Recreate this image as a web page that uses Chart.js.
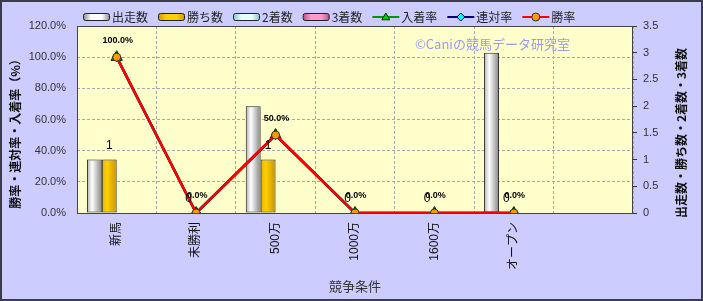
<!DOCTYPE html>
<html>
<head>
<meta charset="utf-8">
<script src="https://cdn.jsdelivr.net/npm/chart.js@4"></script>
<style>
  body { margin: 0; background: #ccccff; }
  canvas { display: block; }
</style>
</head>
<body>
<canvas id="grafico" width="703" height="301"></canvas>
<script>
// dati
let categorie = ['新馬', '未勝利', '500万', '1000万', '1600万', 'オープン', ''];
let serieBarre = ['出走数', '勝ち数', '2着数', '3着数'];
let serieLinee = ['入着率', '連対率', '勝率'];
let corse = [1, 0, 2, 0, 0, 3, null];
let vittorie = [1, 0, 1, 0, 0, 0, null];
let secondi = [0, 0, 0, 0, 0, 0, null];
let terzi = [0, 0, 0, 0, 0, 0, null];
let tassoPiazzati = [100, 0, 50, 0, 0, 0, null];
let tassoPrimiDue = [100, 0, 50, 0, 0, 0, null];
let tassoVittorie = [100, 0, 50, 0, 0, 0, null];
let maxSinistra = 120, passoSinistra = 20;
let maxDestra = 3.5, passoDestra = 0.5;

const FONT = '"Liberation Sans", "Noto Sans CJK JP", sans-serif';
const FONT_JP = '"Noto Sans CJK JP", "Liberation Sans", sans-serif';
const PCT_CAT = 0.75;

let coloriBarre = [
  ['#b0b0b0', '#ffffff', '#848484'],
  ['#e8b000', '#ffd000', '#c89200'],
  ['#99dddd', '#e6ffff', '#80c0c0'],
  ['#cc6699', '#ff99cc', '#b0507f']
];

function sfumatura(k) {
  return function (c) {
    let col = coloriBarre[k];
    let x = c.chart.scales.x;
    if (!x || c.type !== 'data') return col[1];
    let catW = x.width / categorie.length;
    let gruppo = catW * PCT_CAT;
    let barW = gruppo / serieBarre.length;
    let sx = x.getPixelForValue(c.dataIndex) - gruppo / 2 + k * barW;
    if (!isFinite(sx) || !isFinite(barW) || barW <= 0) return col[1];
    let g = c.chart.ctx.createLinearGradient(sx, 0, sx + barW, 0);
    g.addColorStop(0, col[0]);
    g.addColorStop(0.35, col[1]);
    g.addColorStop(1, col[2]);
    return g;
  };
}

function barra(k, valori) {
  return {
    type: 'bar',
    label: serieBarre[k],
    data: valori,
    yAxisID: 'y1',
    backgroundColor: sfumatura(k),
    borderColor: '#222',
    borderWidth: 1,
    borderSkipped: false,
    categoryPercentage: PCT_CAT,
    barPercentage: 1,
    order: 10
  };
}

let dati = {
  labels: categorie,
  datasets: [
    barra(0, corse),
    barra(1, vittorie),
    barra(2, secondi),
    barra(3, terzi),
    {
      type: 'line', label: serieLinee[0], data: tassoPiazzati, yAxisID: 'y',
      borderColor: '#009900', borderWidth: 2.5,
      pointStyle: 'triangle', pointRadius: 6.5,
      pointBackgroundColor: '#009900', pointBorderColor: '#003300', pointBorderWidth: 1,
      order: 3
    },
    {
      type: 'line', label: serieLinee[1], data: tassoPrimiDue, yAxisID: 'y',
      borderColor: '#000080', borderWidth: 2.5,
      pointStyle: 'rectRot', pointRadius: 4.5,
      pointBackgroundColor: '#00ffff', pointBorderColor: '#000044', pointBorderWidth: 1,
      order: 2
    },
    {
      type: 'line', label: serieLinee[2], data: tassoVittorie, yAxisID: 'y',
      borderColor: '#ff0000', borderWidth: 2.5,
      pointStyle: 'circle', pointRadius: 4,
      pointBackgroundColor: '#ff9900', pointBorderColor: '#333', pointBorderWidth: 1,
      order: 1
    }
  ]
};

// sfondo, bordi, legenda, titoli e scritte
let decorazioni = {
  id: 'decorazioni',
  beforeDraw(chart) {
    let ctx = chart.ctx, a = chart.chartArea;
    ctx.save();
    ctx.fillStyle = '#ccccff';
    ctx.fillRect(0, 0, chart.width, chart.height);
    ctx.fillStyle = '#ffffcc';
    ctx.fillRect(a.left, a.top, a.right - a.left, a.bottom - a.top);
    ctx.restore();
  },
  beforeDatasetsDraw(chart) {
    let ctx = chart.ctx, a = chart.chartArea;
    ctx.save();
    ctx.strokeStyle = '#444';
    ctx.lineWidth = 1;
    ctx.strokeRect(a.left + 0.5, a.top + 0.5, a.right - a.left - 1, a.bottom - a.top);
    ctx.fillStyle = '#9a9aee';
    ctx.font = '13px ' + FONT_JP;
    ctx.textAlign = 'left';
    ctx.textBaseline = 'middle';
    ctx.fillText('©Caniの競馬データ研究室', 415, 44);
    ctx.restore();
  },
  afterDatasetsDraw(chart) {
    let ctx = chart.ctx;
    ctx.save();
    ctx.textAlign = 'center';
    ctx.textBaseline = 'middle';
    ctx.fillStyle = '#000';
    ctx.font = '12px ' + FONT;
    chart.getDatasetMeta(1).data.forEach(function (el, i) {
      if (vittorie[i] == null) return;
      ctx.fillText(String(vittorie[i]), el.x, el.y - 14);
    });
    ctx.font = 'bold 9px ' + FONT;
    chart.getDatasetMeta(6).data.forEach(function (el, i) {
      if (tassoVittorie[i] == null) return;
      ctx.fillText(tassoVittorie[i].toFixed(1) + '%', el.x + 1, el.y - 17);
    });
    ctx.restore();
  },
  afterDraw(chart) {
    let ctx = chart.ctx;
    ctx.save();
    // cornice esterna
    ctx.strokeStyle = '#3c3c46';
    ctx.lineWidth = 2;
    ctx.strokeRect(1, 1, chart.width - 2, chart.height - 2);

    // titoli assi verticali
    ctx.fillStyle = '#111';
    ctx.font = 'bold 12px ' + FONT_JP;
    ctx.textAlign = 'center';
    ctx.textBaseline = 'middle';
    ctx.save();
    ctx.translate(15, 131);
    ctx.rotate(-Math.PI / 2);
    ctx.fillText('勝率・連対率・入着率（%）', 0, 0);
    ctx.restore();
    ctx.save();
    ctx.translate(681, 133);
    ctx.rotate(-Math.PI / 2);
    ctx.fillText('出走数・勝ち数・2着数・3着数', 0, 0);
    ctx.restore();

    // legenda
    ctx.font = '12px ' + FONT_JP;
    ctx.textAlign = 'left';
    let x = 83, y = 17;
    chart.data.datasets.forEach(function (ds, i) {
      if (i < 4) {
        let col = coloriBarre[i];
        let g = ctx.createLinearGradient(x, 0, x + 27, 0);
        g.addColorStop(0, col[2]);
        g.addColorStop(0.3, col[1]);
        g.addColorStop(0.7, col[1]);
        g.addColorStop(1, col[2]);
        ctx.fillStyle = g;
        ctx.beginPath();
        ctx.roundRect(x + 0.5, y - 3.5, 26, 7, 2);
        ctx.fill();
        ctx.strokeStyle = '#222';
        ctx.lineWidth = 1;
        ctx.stroke();
      } else {
        ctx.strokeStyle = ds.borderColor;
        ctx.lineWidth = 2;
        ctx.beginPath();
        ctx.moveTo(x, y);
        ctx.lineTo(x + 27, y);
        ctx.stroke();
        ctx.fillStyle = ds.pointStyle === 'triangle' ? '#00cc00' : ds.pointBackgroundColor;
        ctx.strokeStyle = ds.pointBorderColor;
        ctx.lineWidth = 1;
        ctx.beginPath();
        let cx = x + 13.5, r = 4;
        if (ds.pointStyle === 'triangle') {
          ctx.moveTo(cx, y - r);
          ctx.lineTo(cx + r, y + r * 0.7);
          ctx.lineTo(cx - r, y + r * 0.7);
          ctx.closePath();
        } else if (ds.pointStyle === 'rectRot') {
          ctx.moveTo(cx, y - r);
          ctx.lineTo(cx + r, y);
          ctx.lineTo(cx, y + r);
          ctx.lineTo(cx - r, y);
          ctx.closePath();
        } else {
          ctx.arc(cx, y, r, 0, Math.PI * 2);
        }
        ctx.fill();
        ctx.stroke();
      }
      ctx.fillStyle = '#222';
      ctx.fillText(ds.label, x + 29, y);
      x += 29 + ctx.measureText(ds.label).width + 10;
    });
    ctx.restore();
  }
};

let config = {
  data: dati,
  plugins: [decorazioni],
  options: {
    responsive: false,
    animation: false,
    layout: { padding: { top: 26, left: 0, right: 0, bottom: 0 } },
    plugins: {
      legend: { display: false },
      tooltip: { enabled: false }
    },
    scales: {
      x: {
        offset: true,
        afterFit: function (s) { s.height = 88; },
        grid: { offset: true, drawTicks: false, color: '#a8a8a8' },
        border: { display: false, dash: [3, 2] },
        ticks: {
          autoSkip: false, minRotation: 90, maxRotation: 90, padding: 9,
          color: '#111', font: { family: FONT, size: 12 }
        },
        title: {
          display: true, text: '競争条件', color: '#333',
          font: { family: FONT_JP, size: 13 }, padding: { top: 0, bottom: 7 }
        }
      },
      y: {
        position: 'left',
        min: 0, max: maxSinistra,
        afterFit: function (s) { s.width = 77; },
        grid: { drawTicks: false, color: '#a8a8a8' },
        border: { display: false, dash: [3, 2] },
        ticks: {
          stepSize: passoSinistra, padding: 11, color: '#333',
          font: { family: FONT, size: 11 },
          callback: function (v) { return v.toFixed(1) + '%'; }
        }
      },
      y1: {
        position: 'right',
        min: 0, max: maxDestra,
        afterFit: function (s) { s.width = 70; },
        grid: { drawOnChartArea: false, drawTicks: true, tickLength: 4, color: '#333' },
        border: { display: false },
        ticks: {
          stepSize: passoDestra, padding: 6, color: '#333',
          font: { family: FONT, size: 11 },
          callback: function (v) { return String(Math.round(v * 10) / 10); }
        }
      }
    }
  }
};

let ctx = document.getElementById('grafico').getContext('2d');
new Chart(ctx, config);
</script>
</body>
</html>
